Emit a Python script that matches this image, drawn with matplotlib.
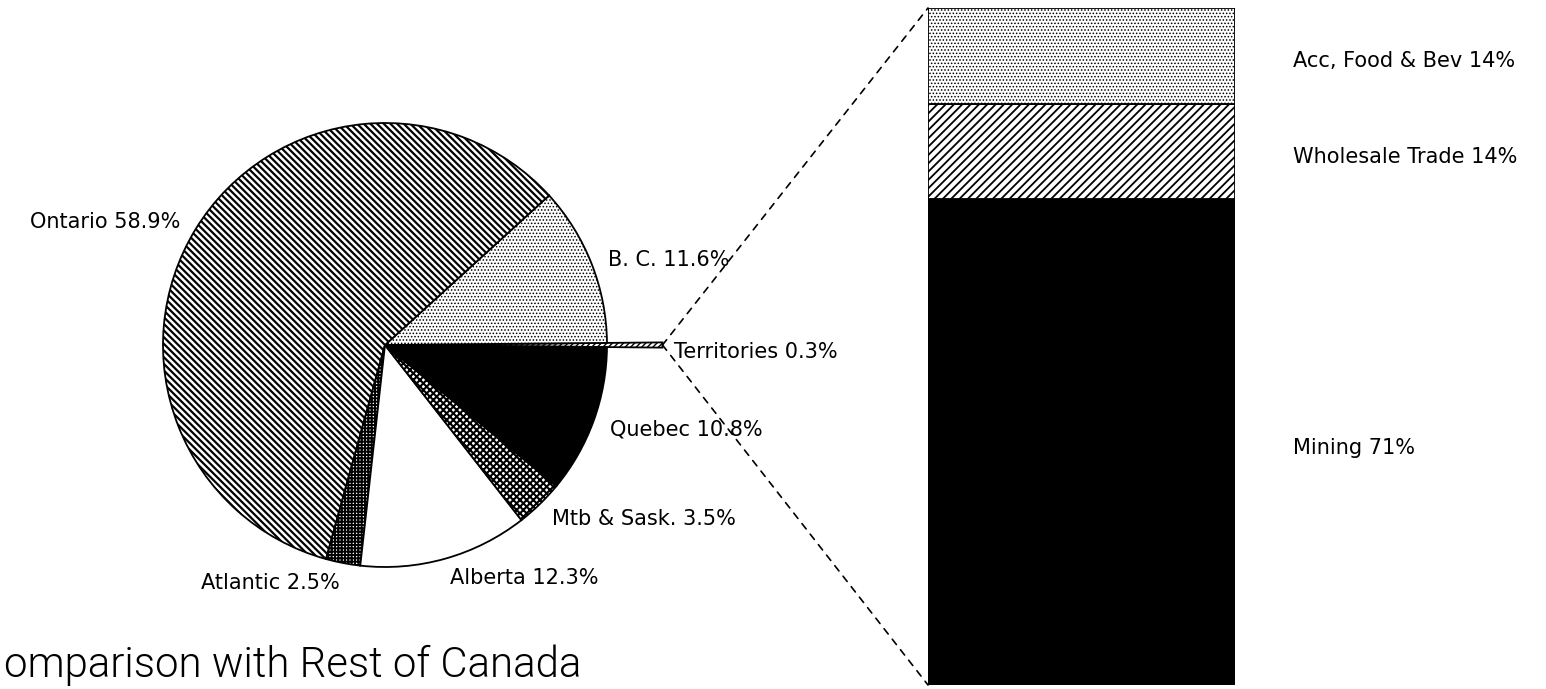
import matplotlib
matplotlib.use("Agg")
import matplotlib.pyplot as plt
from matplotlib import font_manager
from matplotlib.patches import ConnectionPatch
from matplotlib.transforms import blended_transform_factory

# ---- data ----
regions = ["Territories", "B. C.", "Ontario", "Atlantic", "Alberta", "Mtb & Sask.", "Quebec"]
region_share = [0.3, 11.6, 58.9, 2.5, 12.3, 3.5, 10.8]

sectors = ["Mining", "Wholesale Trade", "Acc, Food & Bev"]
sector_share = [71, 14, 14]

title_text = "omparison with Rest of Canada"

# ---- styles ----
region_face = ["white", "white", "white", "white", "white", "white", "black"]
region_hatch = ["//////", ".....", "\\\\\\\\\\", "+++++", "", "xxxxx", ""]
region_hlw = [1.0, 0.7, 1.6, 1.4, 1.0, 1.5, 1.0]
sector_face = ["black", "white", "white"]
sector_hatch = ["", "////", "....."]
sector_hlw = [1.0, 1.3, 0.7]

plt.rcParams["hatch.linewidth"] = 1.5
plt.rcParams["font.family"] = ["DejaVu Sans"]

# choose a light-weight family for the large caption if one is installed
title_family, title_weight = "DejaVu Sans", "normal"
for fam in ["Roboto", "Lato", "Open Sans", "Inter", "Noto Sans"]:
    ws = [f.weight for f in font_manager.fontManager.ttflist if f.name == fam]
    ws = [w if isinstance(w, int) else {"light": 300, "extra light": 200, "thin": 100}.get(str(w).lower(), 400) for w in ws]
    if any(w <= 300 for w in ws):
        title_family, title_weight = fam, 300
        break


def set_hlw(patch, lw):
    if hasattr(patch, "set_hatch_linewidth"):
        patch.set_hatch_linewidth(lw)


W, H = 1546, 689
fig = plt.figure(figsize=(W / 100, H / 100), dpi=100)

# pie axes: centre at (385, 345) px, radius 222 px
R = 222.0
half = 300.0
cx, cy = 385.0, 345.0
ax = fig.add_axes([(cx - half) / W, (H - cy - half) / H, 2 * half / W, 2 * half / H])

labels = [f"{r} {v}%" for r, v in zip(regions, region_share)]
start = -region_share[0] / sum(region_share) * 180.0
wedges, texts = ax.pie(
    region_share, labels=labels, startangle=start,
    counterclock=True, labeldistance=1.08, radius=1.0,
    wedgeprops=dict(edgecolor="black", linewidth=1.3),
    textprops=dict(fontsize=15),
)
for w, fc, ht, lw in zip(wedges, region_face, region_hatch, region_hlw):
    w.set_facecolor(fc)
    if ht:
        w.set_hatch(ht)
        set_hlw(w, lw)
for t in texts:
    x, y = t.get_position()
    t.set_position((x, y - 0.01))
# extended territories sliver
wedges[0].set_radius(1.25)
texts[0].set_position((1.30, -0.03))
texts[0].set_ha("left")
ax.set_xlim(-half / R, half / R)
ax.set_ylim(-half / R, half / R)
ax.set_aspect("equal")
ax.axis("off")

# bar axes
bx0, bx1 = 928.0, 1235.0
by0, by1 = 8.0, 685.0
bax = fig.add_axes([bx0 / W, (H - by1) / H, (bx1 - bx0) / W, (by1 - by0) / H])
bottom = 0
for name, val, fc, ht, lw in zip(sectors, sector_share, sector_face, sector_hatch, sector_hlw):
    bars = bax.bar(0, val, width=1.0, bottom=bottom, color=fc, hatch=ht if ht else None,
                   edgecolor="black", linewidth=1.3)
    if ht:
        set_hlw(bars[0], lw)
    bottom += val
bax.set_xlim(-0.5, 0.5)
bax.set_ylim(0, sum(sector_share))
bax.axis("off")

trans = blended_transform_factory(bax.transAxes, bax.transData)
cum = 0
for name, val in zip(sectors, sector_share):
    bax.text(1.19, cum + val / 2 - 0.8, f"{name} {val}%", transform=trans, ha="left",
             va="center", fontsize=15)
    cum += val

# dashed connectors
for yb in (1.0, 0.0):
    con = ConnectionPatch(xyA=(1.25, 0.0), coordsA=ax.transData,
                          xyB=(0.0, yb), coordsB=bax.transAxes,
                          linestyle=(0, (4, 4)), linewidth=1.2, color="black")
    fig.add_artist(con)

# caption (visible part of the cropped caption), sized to span ~577 px
cap = fig.text(4 / W, (H - 677) / H, title_text, ha="left", va="baseline",
               fontsize=30, fontweight=title_weight, family=[title_family])
renderer = fig.canvas.get_renderer()
wpx = cap.get_window_extent(renderer).width
cap.set_fontsize(30 * 576.0 / wpx)

fig.savefig("out.png", dpi=100)
